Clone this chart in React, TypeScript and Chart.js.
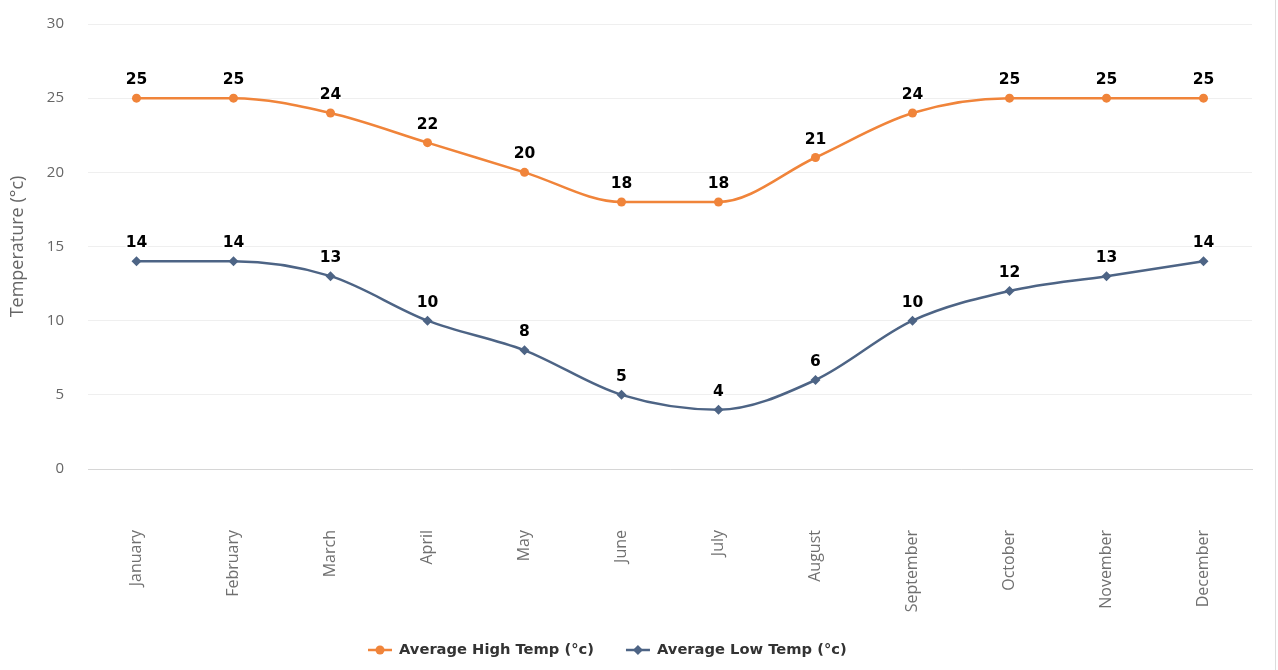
import React, { useEffect, useRef } from 'react';
import { Chart, registerables } from 'chart.js';

Chart.register(...registerables);

const months = ['January', 'February', 'March', 'April', 'May', 'June', 'July', 'August', 'September', 'October', 'November', 'December'];
const highTemps = [25, 25, 24, 22, 20, 18, 18, 21, 24, 25, 25, 25];
const lowTemps = [14, 14, 13, 10, 8, 5, 4, 6, 10, 12, 13, 14];
const seriesNames = ['Average High Temp (°c)', 'Average Low Temp (°c)'];
const yAxisTitle = 'Temperature (°c)';
const yMin = 0;
const yMax = 30;
const yStep = 5;

const HIGH_COLOR = '#f0843a';
const LOW_COLOR = '#4d6485';
const LABEL_FONT = '"Open Sans", "DejaVu Sans", sans-serif';
const BOLD_FONT = '"DejaVu Sans", sans-serif';

const dataLabelPlugin = {
  id: 'dataLabels',
  afterDatasetsDraw(chart: any) {
    const ctx = chart.ctx;
    ctx.save();
    ctx.font = `bold 15.5px ${BOLD_FONT}`;
    ctx.textAlign = 'center';
    ctx.textBaseline = 'middle';
    ctx.lineJoin = 'round';
    chart.data.datasets.forEach((ds: any, i: number) => {
      const meta = chart.getDatasetMeta(i);
      meta.data.forEach((pt: any, j: number) => {
        const txt = String(ds.data[j]);
        const x = pt.x;
        const y = pt.y - 18;
        ctx.lineWidth = 4;
        ctx.strokeStyle = 'rgba(255,255,255,0.9)';
        ctx.strokeText(txt, x, y);
        ctx.fillStyle = '#000';
        ctx.fillText(txt, x, y);
      });
    });
    ctx.restore();
  },
};

const legendPlugin = {
  id: 'customLegend',
  afterDraw(chart: any) {
    const ctx = chart.ctx;
    ctx.save();
    ctx.font = `bold 14.7px ${BOLD_FONT}`;
    ctx.textBaseline = 'middle';
    ctx.textAlign = 'left';
    const y = 650;
    let x = 368;
    chart.data.datasets.forEach((ds: any, i: number) => {
      const color = ds.borderColor;
      ctx.strokeStyle = color;
      ctx.lineWidth = 2.5;
      ctx.beginPath();
      ctx.moveTo(x, y);
      ctx.lineTo(x + 24, y);
      ctx.stroke();
      ctx.fillStyle = color;
      ctx.beginPath();
      const cx = x + 12;
      if (i === 0) {
        ctx.arc(cx, y, 4.5, 0, Math.PI * 2);
      } else {
        ctx.moveTo(cx, y - 5);
        ctx.lineTo(cx + 5, y);
        ctx.lineTo(cx, y + 5);
        ctx.lineTo(cx - 5, y);
        ctx.closePath();
      }
      ctx.fill();
      ctx.fillStyle = '#333';
      ctx.fillText(ds.label, x + 31, y);
      const w = ctx.measureText(ds.label).width;
      x += 31 + w + 32;
    });
    ctx.strokeStyle = '#dcdcdc';
    ctx.lineWidth = 1;
    ctx.beginPath();
    ctx.moveTo(1275.5, 0);
    ctx.lineTo(1275.5, 670);
    ctx.stroke();
    ctx.restore();
  },
};

export default function App() {
  const canvasRef = useRef<HTMLCanvasElement | null>(null);

  useEffect(() => {
    document.body.style.margin = '0';
    const canvas = canvasRef.current;
    if (!canvas) return;
    const chart = new Chart(canvas, {
      type: 'line',
      data: {
        labels: months,
        datasets: [
          {
            label: seriesNames[0],
            data: highTemps,
            borderColor: HIGH_COLOR,
            backgroundColor: HIGH_COLOR,
            borderWidth: 2.5,
            pointStyle: 'circle',
            pointRadius: 4.5,
            pointBorderWidth: 0,
            cubicInterpolationMode: 'monotone',
            fill: false,
          },
          {
            label: seriesNames[1],
            data: lowTemps,
            borderColor: LOW_COLOR,
            backgroundColor: LOW_COLOR,
            borderWidth: 2.5,
            pointStyle: 'rectRot',
            pointRadius: 5,
            pointBorderWidth: 0,
            cubicInterpolationMode: 'monotone',
            fill: false,
          },
        ],
      },
      options: {
        responsive: false,
        animation: false,
        layout: { padding: { top: 24, right: 26, bottom: 0, left: 0 } },
        plugins: {
          legend: { display: false },
          tooltip: { enabled: false },
          title: { display: false },
        },
        scales: {
          x: {
            offset: true,
            grid: { display: false, drawTicks: false },
            border: { display: true, color: '#d6d6d6', width: 1 },
            ticks: {
              autoSkip: false,
              minRotation: 90,
              maxRotation: 90,
              padding: 61,
              color: '#707070',
              font: { family: LABEL_FONT, size: 16 },
            },
            afterFit(scale: any) {
              scale.height = 201;
              scale.paddingLeft = 0;
              scale.paddingRight = 0;
            },
          },
          y: {
            min: yMin,
            max: yMax,
            ticks: {
              stepSize: yStep,
              padding: 24,
              color: '#666',
              font: { family: LABEL_FONT, size: 15 },
            },
            grid: { color: '#efefef', drawTicks: false, lineWidth: 1 },
            border: { display: false },
            title: {
              display: true,
              text: yAxisTitle,
              color: '#666',
              font: { family: LABEL_FONT, size: 18 },
              padding: { top: 7, bottom: 0 },
            },
            afterFit(scale: any) {
              scale.width = 88;
              scale.paddingTop = 0;
              scale.paddingBottom = 0;
            },
          },
        },
      },
      plugins: [dataLabelPlugin, legendPlugin],
    });
    return () => chart.destroy();
  }, []);

  return (
    <div style={{ position: 'absolute', left: 0, top: 0, width: 1278, height: 670, background: '#fff' }}>
      <canvas ref={canvasRef} width={1278} height={670} />
    </div>
  );
}
